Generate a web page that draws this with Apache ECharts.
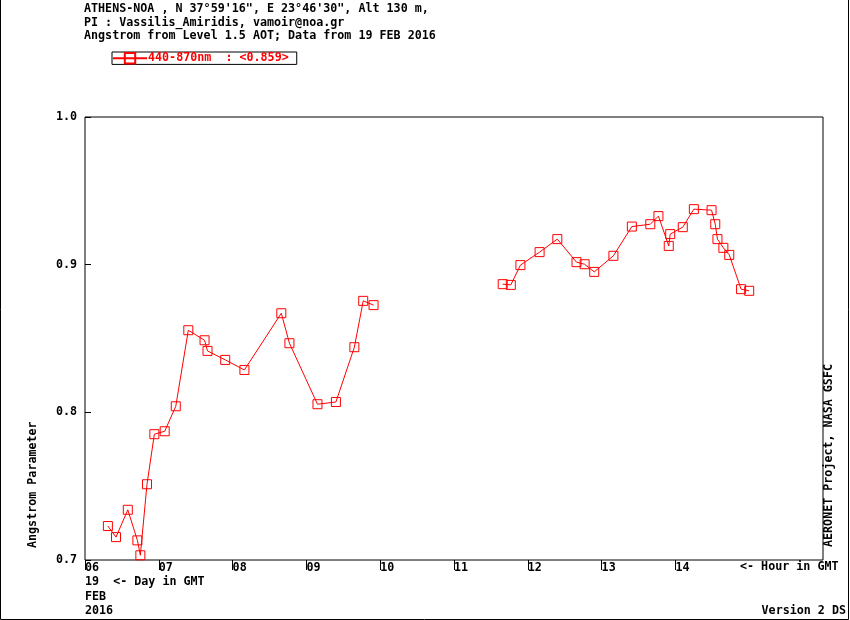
<!DOCTYPE html>
<html>
<head>
<meta charset="utf-8">
<script src="https://cdn.jsdelivr.net/npm/echarts@6/dist/echarts.min.js"></script>
<style>
    html, body { margin: 0; padding: 0; background: #fff; }
    #chart { width: 850px; height: 620px; }
</style>
</head>
<body>
<div id="chart"></div>
<script>
// hour in GMT (decimal) and angstrom 440-870nm, null = gap in the record
const hours = [
    6.31, 6.42, 6.58, 6.71, 6.75, 6.84, 6.94, 7.08, 7.23, 7.40,
    7.62, 7.66, 7.90, 8.16, 8.66, 8.77, 9.15, 9.40, 9.65, 9.77, 9.91,
    null,
    11.66, 11.77, 11.90, 12.16, 12.40, 12.66, 12.77, 12.90, 13.16, 13.41,
    13.66, 13.77, 13.91, 13.93, 14.10, 14.25, 14.49, 14.54, 14.57, 14.65,
    14.73, 14.89, 15.00
];
const angstrom = [
    0.723, 0.7155, 0.734, 0.7133, 0.7032, 0.7513, 0.7852, 0.7872, 0.8041, 0.8556,
    0.8488, 0.8416, 0.8355, 0.8287, 0.8671, 0.8468, 0.8055, 0.807, 0.8441, 0.8755, 0.8726,
    null,
    0.8868, 0.8863, 0.8997, 0.9085, 0.9173, 0.9017, 0.9003, 0.8951, 0.906, 0.9258,
    0.9274, 0.9329, 0.9127, 0.9207, 0.9254, 0.9376, 0.9369, 0.9274, 0.9173, 0.9114,
    0.9066, 0.8834, 0.8823
];
const hourTicks = [6, 7, 8, 9, 10, 11, 12, 13, 14];
const hourLabels = ['06', '07', '08', '09', '10', '11', '12', '13', '14'];
const seriesName = '440-870nm  : <0.859>';

const FONT = 'DejaVu Sans Mono';
const FS = 11.7;
const RED = '#ff0000';

let chart = echarts.init(document.getElementById('chart'), null, { renderer: 'canvas' });

let points = hours.map((h, i) => h === null ? '-' : [h, angstrom[i]]);

// plain texts around the frame
function txt(x, y, text, extra) {
    return Object.assign({
        type: 'text',
        x: x,
        y: y,
        style: {
            text: text,
            fill: '#000',
            font: 'bold ' + FS + 'px "' + FONT + '"',
            textAlign: 'left',
            textVerticalAlign: 'middle'
        }
    }, extra || {});
}

let option = {
    backgroundColor: '#fff',
    animation: false,
    grid: {
        left: 85,
        right: 27,
        top: 117,
        bottom: 60,
        show: true,
        borderColor: '#000',
        borderWidth: 1,
        backgroundColor: 'transparent'
    },
    legend: {
        left: 112,
        top: 52,
        padding: [0, 8, 0, 0],
        itemWidth: 34,
        itemHeight: 13,
        itemGap: 0,
        borderColor: '#000',
        borderWidth: 1,
        borderRadius: 0,
        textStyle: {
            color: RED,
            fontFamily: FONT,
            fontWeight: 'bold',
            fontSize: FS,
            padding: [0, 0, 0, -4]
        },
        data: [{ name: seriesName }]
    },
    xAxis: {
        type: 'value',
        min: 6,
        max: 16,
        interval: 1,
        splitLine: { show: false },
        axisLine: { show: false },
        axisTick: {
            show: true,
            inside: false,
            length: 10,
            customValues: hourTicks,
            lineStyle: { color: '#000' }
        },
        axisLabel: {
            color: '#000',
            fontFamily: FONT,
            fontWeight: 'bold',
            fontSize: FS,
            align: 'left',
            margin: 2,
            customValues: hourTicks,
            formatter: (v) => hourLabels[hourTicks.indexOf(Math.round(v))] || ''
        }
    },
    yAxis: {
        type: 'value',
        min: 0.7,
        max: 1.0,
        interval: 0.1,
        splitLine: { show: false },
        axisLine: { show: false },
        axisTick: { show: true, inside: true, length: 6, lineStyle: { color: '#000' } },
        axisLabel: {
            color: '#000',
            fontFamily: FONT,
            fontWeight: 'bold',
            fontSize: FS,
            margin: 8,
            formatter: (v) => v.toFixed(1)
        }
    },
    series: [{
        name: seriesName,
        type: 'line',
        data: points,
        connectNulls: false,
        symbol: 'path://M0,0 L10,0 L10,10 L0,10 Z',
        symbolSize: 9,
        lineStyle: { color: RED, width: 1 },
        itemStyle: { color: 'transparent', borderColor: RED, borderWidth: 1 },
        emphasis: { disabled: true }
    }],
    graphic: [
        txt(84, 9, 'ATHENS-NOA , N 37°59\'16", E 23°46\'30", Alt 130 m,'),
        txt(84, 23, 'PI : Vassilis_Amiridis, vamoir@noa.gr'),
        txt(84, 36, 'Angstrom from Level 1.5 AOT; Data from 19 FEB 2016'),
        txt(740, 567, '<- Hour in GMT'),
        txt(85, 582, '19  <- Day in GMT'),
        txt(85, 597, 'FEB'),
        txt(85, 611, '2016'),
        txt(846, 611, 'Version 2 DS', { style: {
            text: 'Version 2 DS', fill: '#000', font: 'bold ' + FS + 'px "' + FONT + '"',
            textAlign: 'right', textVerticalAlign: 'middle'
        } }),
        txt(33, 548, 'Angstrom Parameter', { rotation: Math.PI / 2 }),
        txt(829, 547, 'AERONET Project, NASA GSFC', { rotation: Math.PI / 2 }),
        // outer frame
        {
            type: 'polyline',
            shape: { points: [[0.5, 0], [0.5, 619.5], [848.5, 619.5], [848.5, 0]] },
            style: { stroke: '#000', lineWidth: 1, fill: null }
        }
    ]
};

chart.setOption(option);
</script>
</body>
</html>
